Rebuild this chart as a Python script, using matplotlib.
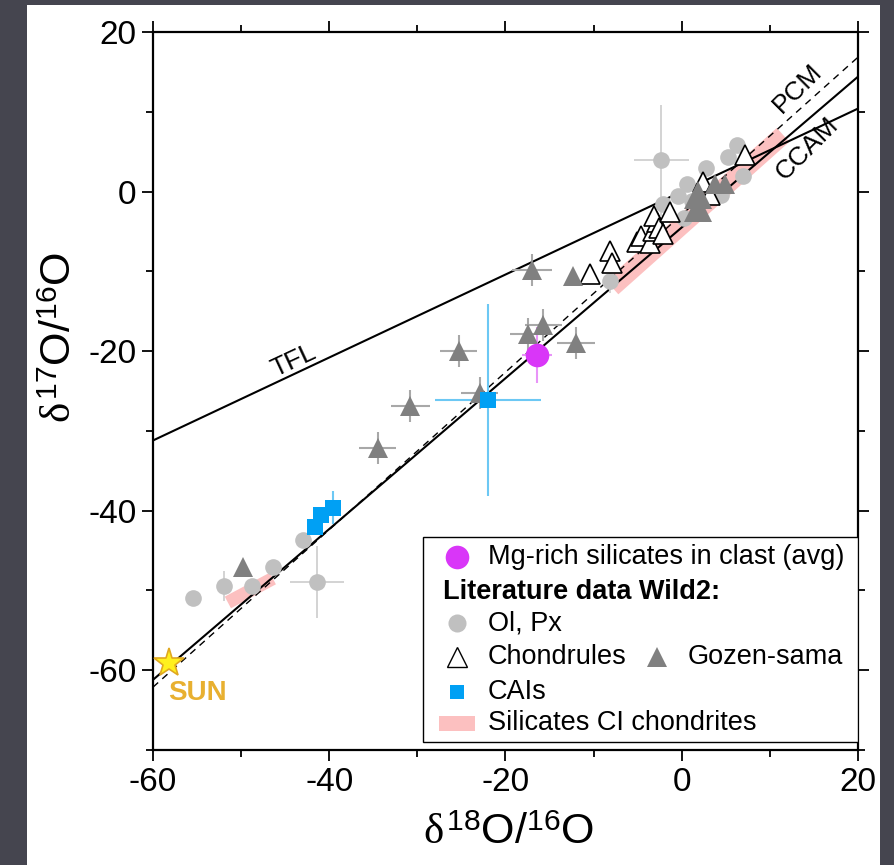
import numpy as np
import matplotlib.pyplot as plt
from matplotlib.ticker import MultipleLocator
from matplotlib.patches import Rectangle

plt.rcParams['font.family'] = ['Liberation Sans', 'DejaVu Sans']
plt.rcParams['mathtext.fontset'] = 'custom'
plt.rcParams['mathtext.rm'] = 'Liberation Sans'
plt.rcParams['mathtext.it'] = 'Liberation Serif'
plt.rcParams['axes.unicode_minus'] = False

# Ol, Px (Wild2 literature)
olpx_x = [-55.5, -51.9, -48.8, -46.4, -43.0, -41.4, -8.1, -2.3, -2.1, -0.4, 0.6, 0.3,
          2.7, 4.5, 5.3, 6.3, 6.9, 1.2]
olpx_y = [-51.0, -49.4, -49.4, -47.1, -43.7, -48.9, -11.2, 3.9, -1.5, -0.6, 0.9, -3.3,
          2.9, -0.4, 4.3, 5.8, 2.0, -1.2]
olpx_xerr = [0, 0, 0, 0, 0, 3.1, 0, 3.1, 0, 0, 0, 0, 0, 0, 0, 0, 0, 0]
olpx_yerr = [0, 1.9, 0, 0, 0, 4.5, 1.5, 7.0, 0, 0, 0, 0, 0, 0, 0, 0, 0, 0]

# Chondrules
chon_x = [-10.4, -8.1, -7.9, -5.1, -4.6, -3.6, -3.3, -2.8, -3.2, -2.6, -2.1, -1.3, 2.4, 3.2, 7.2]
chon_y = [-10.3, -7.5, -9.0, -6.3, -5.6, -6.5, -5.0, -3.8, -3.0, -4.6, -5.3, -2.5, 1.2, -0.4, 4.6]

# Gozen-sama
goz_x = [-49.8, -34.5, -30.8, -25.3, -22.9, -17.4, -15.7, -17.0, -12.3, -12.0, 3.8, 4.9]
goz_y = [-47.0, -32.1, -26.9, -20.0, -25.2, -17.9, -16.7, -9.8, -10.6, -19.0, 0.9, 0.9]
goz_xerr = [0, 2.1, 2.2, 2.1, 2.1, 2.1, 2.1, 2.3, 0, 2.2, 0, 0]
goz_yerr = [0, 2.0, 2.0, 2.0, 2.0, 2.0, 2.0, 2.0, 0, 2.0, 0, 0]
gozbig_x = [1.8, 1.9]
gozbig_y = [-0.4, -2.1]

# CAIs
cai_x = [-22.0, -41.6, -40.9, -39.6]
cai_y = [-26.1, -42.1, -40.6, -39.6]
cai_xerr = [6.0, 0, 0, 0]
cai_yerr = [12.0, 0, 0, 2.1]

# Mg-rich silicates in clast (avg)
mg_x, mg_y, mg_xerr, mg_yerr = -16.4, -20.5, 1.7, 3.5

# Sun
sun_x, sun_y = -58.2, -59.1

# Silicates CI chondrites (two bands)
ci_x = [[-51.5, -46.4], [-7.9, 11.5]]
ci_y = [[-51.5, -48.5], [-12.0, 7.1]]
ci_w = [9.5, 13.5]

# reference lines: slope, intercept
tfl = (0.52, 0.0)
ccam = (0.945, -4.5)
pcm = (0.987, -2.9)

fig = plt.figure(figsize=(8.94, 8.65), dpi=100, facecolor='#45454f')
fig.patches.append(Rectangle((27 / 894, 0), (880 - 27) / 894, 1 - 5 / 865,
                             transform=fig.transFigure, facecolor='white',
                             edgecolor='none', zorder=-5))
ax = fig.add_axes([0.1711, 0.1329, 0.7886, 0.8301])
ax.set_facecolor('white')

xl = np.array([-60, 20])
for bx, by, w in zip(ci_x, ci_y, ci_w):
    ax.plot(bx, by, color='#fcc0c0', lw=w, solid_capstyle='butt', zorder=1)
ax.plot(xl, tfl[0] * xl + tfl[1], color='black', lw=1.5, zorder=2)
ax.plot(xl, ccam[0] * xl + ccam[1], color='black', lw=1.5, zorder=2)
ax.plot(xl, pcm[0] * xl + pcm[1], color='black', lw=1.0, ls=(0, (5, 4)), zorder=2)

ax.errorbar(olpx_x, olpx_y, xerr=olpx_xerr, yerr=olpx_yerr, fmt='none',
            ecolor='#cccccc', elinewidth=1.2, capsize=0, zorder=3)
ax.errorbar(goz_x, goz_y, xerr=goz_xerr, yerr=goz_yerr, fmt='none',
            ecolor='#a8a8a8', elinewidth=1.5, capsize=0, zorder=3)
ax.errorbar(cai_x, cai_y, xerr=cai_xerr, yerr=cai_yerr, fmt='none',
            ecolor='#6cc8f4', elinewidth=1.5, capsize=0, zorder=3)
ax.errorbar(mg_x, mg_y, xerr=mg_xerr, yerr=mg_yerr, fmt='none',
            ecolor='#e894f8', elinewidth=1.5, capsize=0, zorder=3)

ax.plot(olpx_x, olpx_y, 'o', color='#c0c0c0', ms=12, mew=0, zorder=4)
ax.plot(chon_x, chon_y, '^', mfc='white', mec='black', ms=14, mew=1.2, zorder=5)
ax.plot(goz_x, goz_y, '^', color='#808080', ms=14, mew=0, zorder=6)
ax.plot(gozbig_x, gozbig_y, '^', color='#808080', ms=20, mew=0, zorder=6)
ax.plot(cai_x, cai_y, 's', color='#00a0f4', ms=11, mew=0, zorder=6)
ax.plot(mg_x, mg_y, 'o', color='#d936f8', ms=17, mew=0, zorder=7)
ax.plot(sun_x, sun_y, '*', mfc='#fff01e', mec='#e0a820', ms=22, mew=1.2, zorder=7)

ax.text(-55.0, -62.9, 'SUN', color='#e8b030', fontsize=20, fontweight='bold',
        ha='center', va='center', zorder=8)
ax.text(-44.0, -21.2, 'TFL', fontsize=19, rotation=25, ha='center', va='center')
ax.text(13.1, 12.9, 'PCM', fontsize=19, rotation=45, ha='center', va='center')
ax.text(14.2, 5.4, 'CCAM', fontsize=19, rotation=45, ha='center', va='center')

ax.set_xlim(-60, 20)
ax.set_ylim(-70, 20)
ax.xaxis.set_major_locator(MultipleLocator(20))
ax.xaxis.set_minor_locator(MultipleLocator(10))
ax.yaxis.set_major_locator(MultipleLocator(20))
ax.yaxis.set_minor_locator(MultipleLocator(10))
ax.tick_params(which='both', direction='out', top=True, right=True, width=1.3,
               labelsize=24, pad=4)
ax.tick_params(which='major', length=8)
ax.tick_params(which='minor', length=5)
for s in ax.spines.values():
    s.set_linewidth(1.6)

ax.set_xlabel(r'$\delta^{18}$O/$^{16}$O', fontsize=31)
ax.set_ylabel(r'$\delta^{17}$O/$^{16}$O', fontsize=31)
ax.xaxis.set_label_coords(0.505, -0.088)
ax.yaxis.set_label_coords(-0.104, 0.575)

# legend drawn by hand in axes fraction
T = ax.transAxes
ax.add_patch(Rectangle((0.3830, 0.0111), 0.6170, 0.2856, transform=T,
                       facecolor='white', edgecolor='black', lw=1.0, zorder=9))
mx, tx = 0.4312, 0.4752
rows = [0.2688, 0.2201, 0.1769, 0.1295, 0.0808, 0.0376]
fs = 19.5
ax.plot(mx, rows[0], 'o', color='#d936f8', ms=17, mew=0, transform=T, zorder=10)
ax.text(tx, rows[0], 'Mg-rich silicates in clast (avg)', fontsize=fs, va='center', transform=T, zorder=10)
ax.text(0.4114, rows[1], 'Literature data Wild2:', fontsize=fs, fontweight='bold', va='center', transform=T, zorder=10)
ax.plot(mx, rows[2], 'o', color='#c0c0c0', ms=13, mew=0, transform=T, zorder=10)
ax.text(tx, rows[2], 'Ol, Px', fontsize=fs, va='center', transform=T, zorder=10)
ax.plot(mx, rows[3], '^', mfc='white', mec='black', ms=14, mew=1.0, transform=T, zorder=10)
ax.text(tx, rows[3], 'Chondrules', fontsize=fs, va='center', transform=T, zorder=10)
ax.plot(0.7149, rows[3], '^', color='#808080', ms=14, mew=0, transform=T, zorder=10)
ax.text(0.7589, rows[3], 'Gozen-sama', fontsize=fs, va='center', transform=T, zorder=10)
ax.plot(mx, rows[4], 's', color='#00a0f4', ms=10, mew=0, transform=T, zorder=10)
ax.text(tx, rows[4], 'CAIs', fontsize=fs, va='center', transform=T, zorder=10)
ax.add_patch(Rectangle((0.4056, rows[5] - 0.0105), 0.0511, 0.021, transform=T,
                       facecolor='#fcc0c0', edgecolor='none', zorder=10))
ax.text(tx, rows[5], 'Silicates CI chondrites', fontsize=fs, va='center', transform=T, zorder=10)

fig.savefig('out.png', dpi=100, facecolor=fig.get_facecolor())
